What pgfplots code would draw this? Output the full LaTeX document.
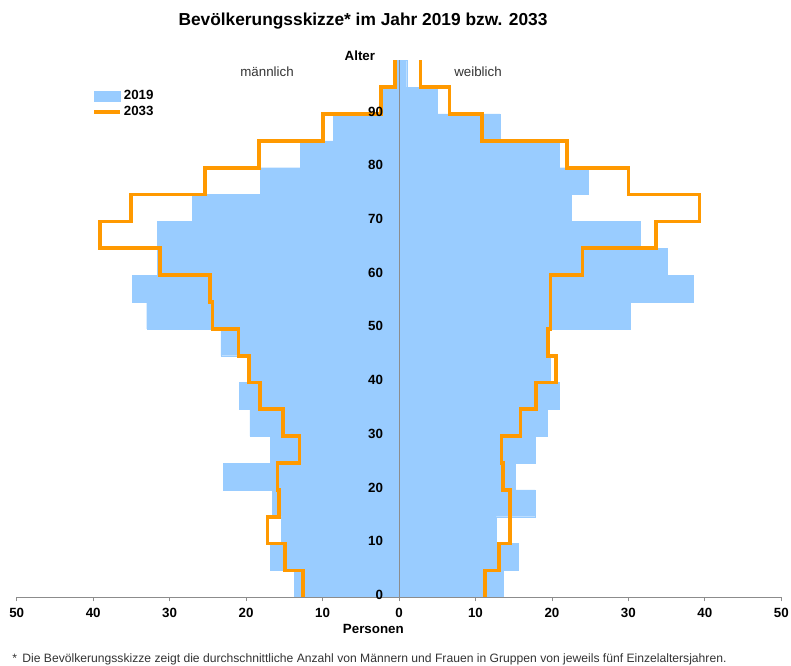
\documentclass[border=0pt]{standalone}
\usepackage{fontspec}
\setmainfont{Liberation Sans}
\usepackage{pgfplots}
\pgfplotsset{compat=1.18}
\usepackage{pgfplotstable}
\definecolor{blue19}{RGB}{153,204,255}
\definecolor{orange33}{RGB}{255,153,0}
\definecolor{axisgray}{RGB}{140,140,140}
\definecolor{txtgray}{RGB}{51,51,51}

% age group (lower edge) and persons per group
\pgfplotstableread{
age m19  m33  f19  f33
0   13.7 12.6 13.6 11.2
5   16.8 14.9 15.6 13.1
10  15.4 17.2 12.7 14.5
15  16.6 15.7 17.8 14.5
20  23.0 15.9 15.2 13.6
25  16.8 13.0 17.8 13.4
30  19.5 15.2 19.4 15.9
35  20.9 18.2 20.9 17.9
40  19.8 19.6 19.8 20.5
45  23.3 21.0 19.3 19.5
50  33.0 24.4 30.2 19.8
55  34.9 24.7 38.5 19.8
60  31.6 31.3 35.1 24.0
65  31.6 39.1 31.5 33.6
70  27.0 35.1 22.5 39.3
75  18.1 25.4 24.7 30.0
80  12.9 18.3 20.9 22.0
85   8.6  9.9 13.2 10.9
90   2.1  2.4  5.0  6.6
95   0.3  0.5  1.0  2.8
}\pyrbars

% the same values as step outlines (upper edge of the last group closes the line)
\pgfplotstableread{
age m33  f33
0   12.6 11.2
5   14.9 13.1
10  17.2 14.5
15  15.7 14.5
20  15.9 13.6
25  13.0 13.4
30  15.2 15.9
35  18.2 17.9
40  19.6 20.5
45  21.0 19.5
50  24.4 19.8
55  24.7 19.8
60  31.3 24.0
65  39.1 33.6
70  35.1 39.3
75  25.4 30.0
80  18.3 22.0
85   9.9 10.9
90   2.4  6.6
95   0.5  2.8
100  0.5  2.8
}\pyrlines

\begin{document}
\begin{tikzpicture}
\useasboundingbox (0,0) rectangle (593.25pt,498.75pt);
\begin{axis}[
  at={(12.53pt,50.78pt)}, anchor=south west,
  scale only axis, width=573.45pt, height=402.75pt,
  xmin=-50, xmax=50, ymin=0, ymax=100,
  clip=false,
  axis x line*=bottom, axis y line*=center,
  hide obscured x ticks=false, hide obscured y ticks=false,
  axis line style={axisgray, line width=0.6pt},
  xtick={-50,-40,...,50},
  xticklabels={50,40,30,20,10,0,10,20,30,40,50},
  ytick={0,10,...,90},
  yticklabels={0,10,20,30,40,50,60,70,80,90},
  x tick style={axisgray, line width=0.6pt},
  tick align=outside,
  x tick label style={font=\fontsize{10}{12}\selectfont\bfseries, yshift=-1.5pt},
  y tick label style={font=\fontsize{10}{12}\selectfont\bfseries, anchor=east, xshift=-5.5pt, yshift=1.8pt},
  y tick style={draw=none},
  major tick length=3pt,
  /pgf/number format/assume math mode=true,
  axis on top,
  xlabel={Personen},
  every axis x label/.style={at={(axis cs:0.65,0)}, anchor=base east, inner sep=0pt, yshift=-27.5pt, font=\fontsize{10}{12}\selectfont\bfseries},
  ylabel={Alter},
  every axis y label/.style={at={(axis cs:-3.1,100)}, anchor=base east, inner sep=0pt, yshift=-0.4pt, font=\fontsize{10}{12}\selectfont\bfseries},
  legend style={at={(axis cs:-40.13,94.8)}, anchor=north west, draw=none, fill=none,
    inner sep=0pt, row sep=0pt, font=\fontsize{10}{12}\selectfont\bfseries,
    nodes={inner sep=1.6pt}},
  legend cell align=left,
]
\addplot[xbar, bar width=5, bar shift=0pt, fill=blue19, draw=blue19, line width=0.2pt,
  legend image code/.code={\fill[blue19] (0pt,-3.75pt) rectangle (19pt,3.75pt);}]
  table[x expr=-\thisrow{m19}, y expr=\thisrow{age}+2.5] {\pyrbars};
\addlegendentry{2019}
\addplot[xbar, bar width=5, bar shift=0pt, fill=blue19, draw=blue19, line width=0.2pt, forget plot]
  table[x=f19, y expr=\thisrow{age}+2.5] {\pyrbars};
\addplot[const plot mark right, orange33, line width=2.8pt, no marks,
  legend image code/.code={\draw[orange33, line width=3pt] (0pt,0pt) -- (19pt,0pt);}]
  table[x expr=-\thisrow{m33}, y=age] {\pyrlines};
\addlegendentry{2033}
\addplot[const plot mark right, orange33, line width=2.8pt, no marks, forget plot]
  table[x=f33, y=age] {\pyrlines};
\end{axis}
\node[anchor=base, font=\fontsize{13}{15}\selectfont\bfseries] at (272.25pt,479.5pt) {Bevölkerungsskizze* im Jahr 2019 bzw. 2033};
\node[anchor=base, inner sep=0pt, text=txtgray, font=\fontsize{10}{12}\selectfont] at (200.25pt,441.4pt) {männlich};
\node[anchor=base, inner sep=0pt, text=txtgray, font=\fontsize{10}{12}\selectfont] at (358.5pt,441.4pt) {weiblich};
\node[anchor=base west, inner sep=0pt, text=txtgray, font=\fontsize{9.1}{11}\selectfont] at (9pt,1.9pt) {*\, Die Bevölkerungsskizze zeigt die durchschnittliche Anzahl von Männern und Frauen in Gruppen von jeweils fünf Einzelaltersjahren.};
\end{tikzpicture}
\end{document}
